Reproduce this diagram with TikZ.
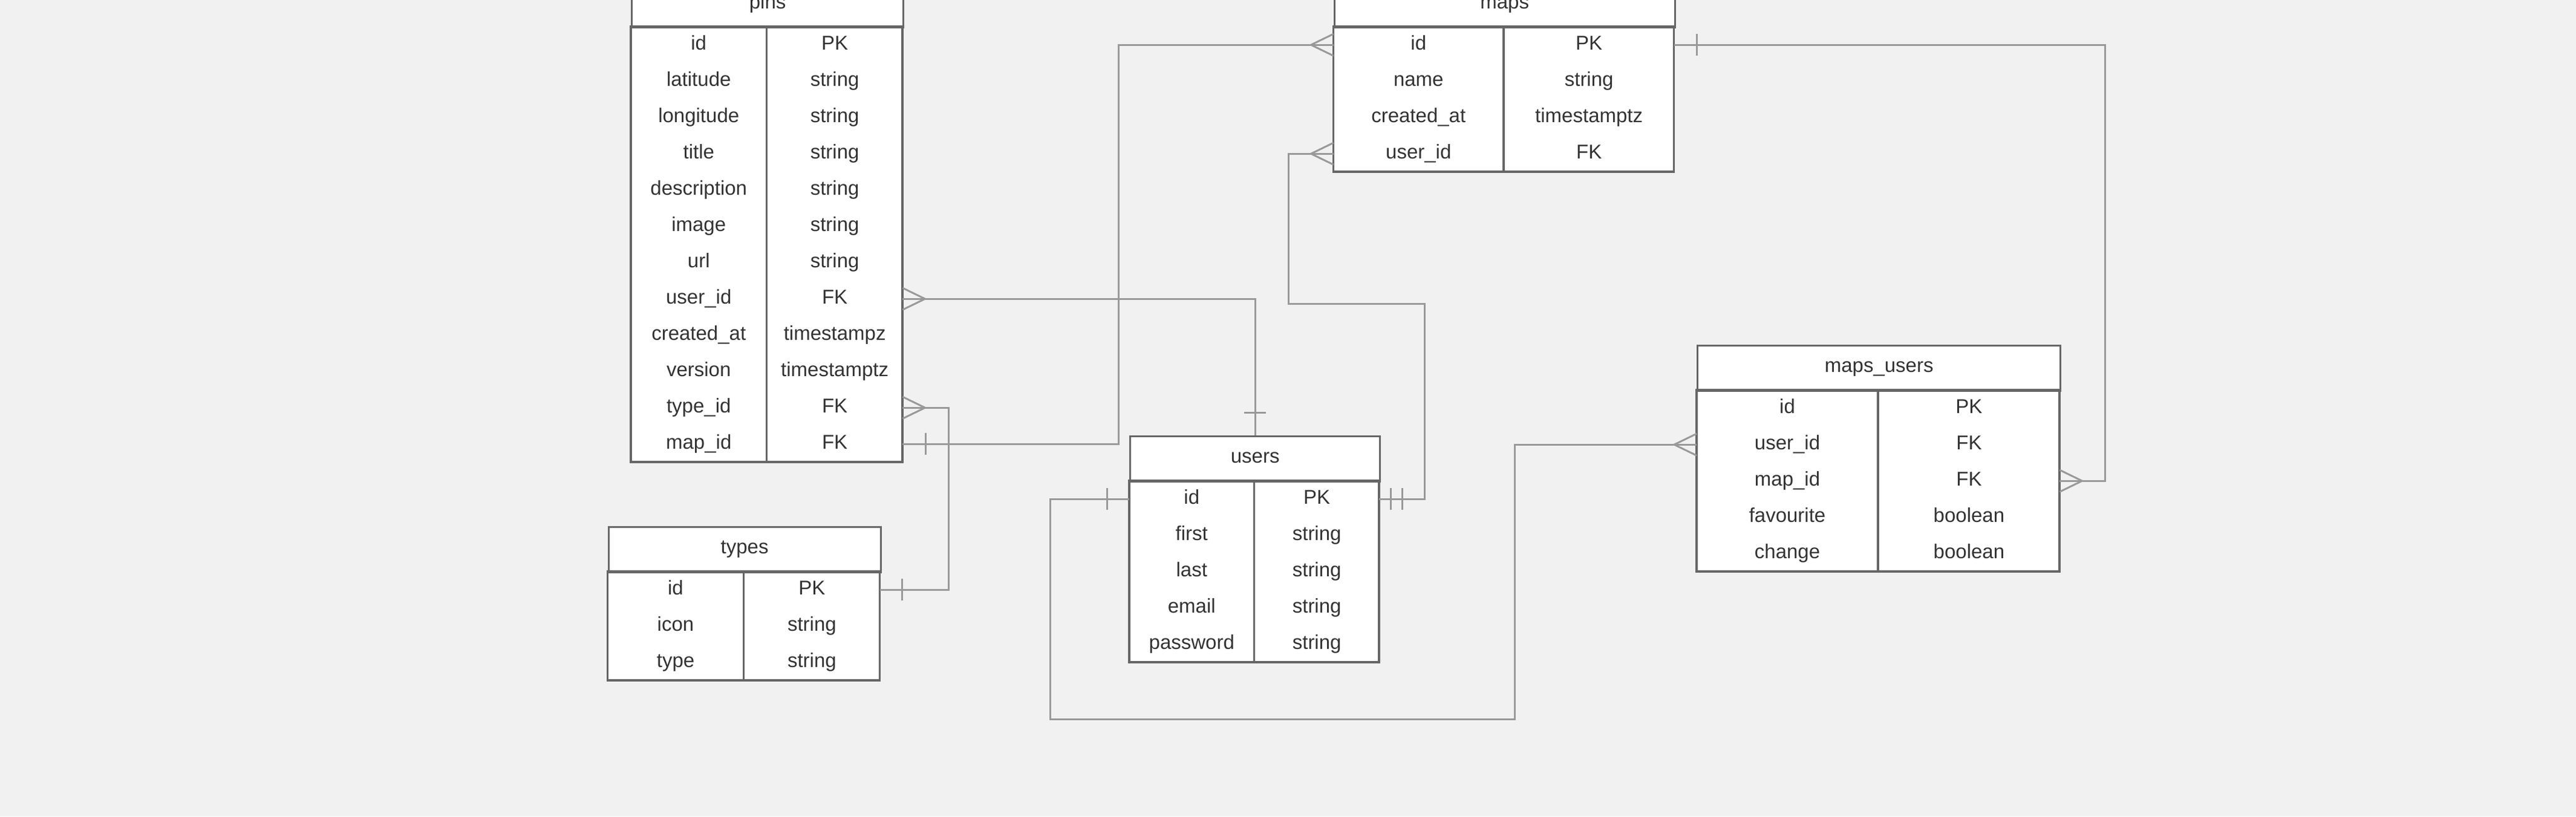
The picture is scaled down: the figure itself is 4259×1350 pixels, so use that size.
\documentclass[tikz,border=0pt]{standalone}
\usepackage{fontspec}
\setmainfont{Liberation Sans}
\usetikzlibrary{calc}
\definecolor{bgc}{HTML}{F1F1F1}
\definecolor{bordc}{HTML}{666666}
\definecolor{txtc}{HTML}{333333}
\definecolor{connc}{HTML}{999999}
\tikzset{
  hdr/.style={rectangle, draw=bordc, line width=3.3pt, fill=white, minimum height=75pt, inner sep=0pt},
  rowbox/.style={rectangle, minimum height=60pt, inner sep=0pt},
  cell/.style={inner sep=0pt, text=txtc, font=\fontsize{33}{40}\selectfont},
  border/.style={draw=bordc, line width=3.3pt},
  conn/.style={draw=connc, line width=3pt},
}
% name, x, ytop, column width, title, number of rows, list
\newcommand\erdtable[7]{%
  \pgfmathsetmacro\erdtw{2*#4}%
  \pgfmathsetmacro\erdbot{#3+75+60*#6}%
  \pgfmathsetmacro\erdright{#2+2*#4}%
  \pgfmathsetmacro\erdmid{#2+#4}%
  \pgfmathsetmacro\erdhb{#3+75}%
  \fill[white] (#2,#3) rectangle (\erdright,\erdbot);
  \node[hdr, minimum width=\erdtw pt, anchor=north west] (#1) at (#2,#3) {};
  \node[cell, anchor=base] (#1-title) at ($(#1.center)+(0,6.5)$) {#5};
  \foreach \ffld/\ftyp [count=\i] in {#7} {%
    \pgfmathsetmacro\erdy{#3+75+60*(\i-1)}%
    \node[rowbox, minimum width=\erdtw pt, anchor=north west] (#1-\i) at (#2,\erdy) {};
    \node[cell, anchor=base] (#1-\i-f) at ($(#1-\i.west)+(#4/2,8)$) {\ffld};
    \node[cell, anchor=base] (#1-\i-t) at ($(#1-\i.east)+(-#4/2,8)$) {\ftyp};
  }%
  \draw[border] (#2,\erdhb) rectangle (\erdright,\erdbot);
  \draw[border] (\erdmid,\erdhb) -- (\erdmid,\erdbot);
}
\newcommand\erdcrowE[1]{\draw[conn] ($(#1)+(0,-18)$) -- ($(#1)+(37,0)$) -- ($(#1)+(0,18)$);}
\newcommand\erdcrowW[1]{\draw[conn] ($(#1)+(0,-18)$) -- ($(#1)+(-37,0)$) -- ($(#1)+(0,18)$);}
\newcommand\erdbarH[2]{\draw[conn] ($(#1)+(#2,-18)$) -- ($(#1)+(#2,18)$);}
\newcommand\erdbarV[2]{\draw[conn] ($(#1)+(-18,#2)$) -- ($(#1)+(18,#2)$);}

\begin{document}
\begin{tikzpicture}[x=1pt,y=-1pt]
\useasboundingbox (0,0) rectangle (4259,1350);
\fill[bgc] (0,0) rectangle (4259,1350);
\clip (0,0) rectangle (4259,1350);

\erdtable{pins}{1043}{-31}{224.5}{pins}{12}{id/PK,latitude/string,longitude/string,title/string,description/string,image/string,url/string,user\_id/FK,created\_at/timestampz,version/timestamptz,type\_id/FK,map\_id/FK}
\erdtable{maps}{2204.5}{-31}{281.5}{maps}{4}{id/PK,name/string,created\_at/timestamptz,user\_id/FK}
\erdtable{users}{1867}{720}{206.5}{users}{5}{id/PK,first/string,last/string,email/string,password/string}
\erdtable{types}{1004.5}{870}{225}{types}{3}{id/PK,icon/string,type/string}
\erdtable{mu}{2805}{570}{300}{maps\_users}{5}{id/PK,user\_id/FK,map\_id/FK,favourite/boolean,change/boolean}

% route points
\coordinate (r2) at (1568,0);
\coordinate (r3) at (1849,0);
\coordinate (c4a) at (2130,502);
\coordinate (c4b) at (2355,502);
\coordinate (c5a) at (1736,1189);
\coordinate (c5b) at (2504,1189);
\coordinate (r6) at (3480,0);

% pins.user_id -> users
\draw[conn] (pins-8.east) -| (users.north);
\erdcrowE{pins-8.east}
\erdbarV{users.north}{-38}
% pins.type_id -> types.id
\draw[conn] (pins-11.east) -- (pins-11.east -| r2) |- (types-1.east);
\erdcrowE{pins-11.east}
\erdbarH{types-1.east}{37}
% pins.map_id -> maps.id
\draw[conn] (pins-12.east) -- (pins-12.east -| r3) |- (maps-1.west);
\erdbarH{pins-12.east}{38}
\erdcrowW{maps-1.west}
% maps.user_id -> users.id
\draw[conn] (maps-4.west) -| (c4a) -- (c4b) |- (users-1.east);
\erdcrowW{maps-4.west}
\erdbarH{users-1.east}{19}
\erdbarH{users-1.east}{38}
% users.id -> maps_users.user_id
\draw[conn] (users-1.west) -| (c5a) -- (c5b) |- (mu-2.west);
\erdbarH{users-1.west}{-37}
\erdcrowW{mu-2.west}
% maps.id -> maps_users.map_id
\draw[conn] (maps-1.east) -- (maps-1.east -| r6) |- (mu-3.east);
\erdbarH{maps-1.east}{38}
\erdcrowE{mu-3.east}
\end{tikzpicture}
\end{document}
